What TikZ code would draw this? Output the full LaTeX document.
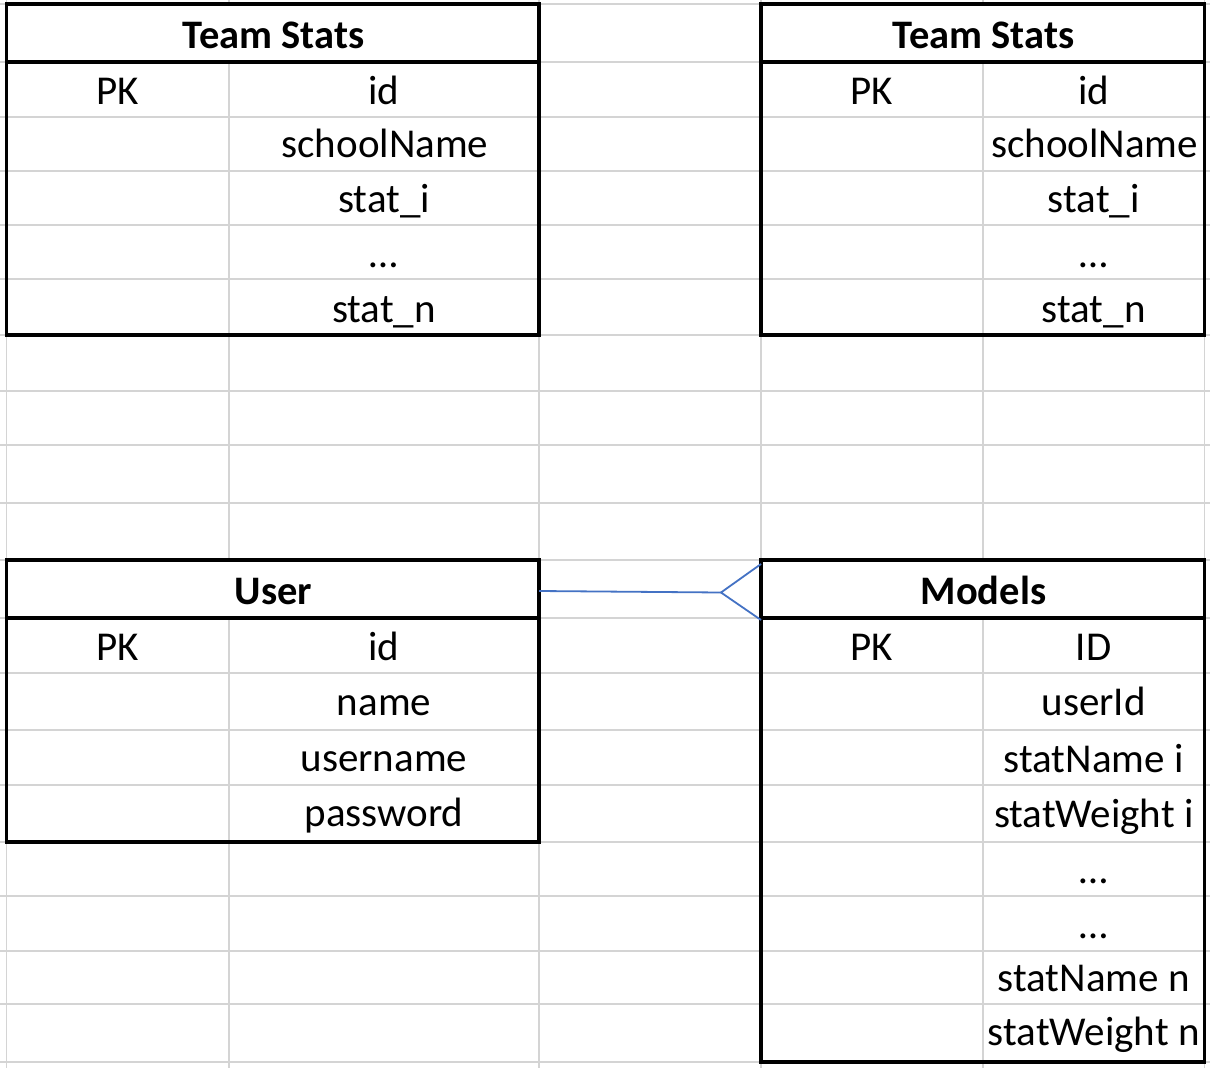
\documentclass[tikz,border=0pt]{standalone}
\usepackage{fontspec}
\setmainfont{Carlito}
\definecolor{gridgray}{RGB}{212,212,212}
\definecolor{linkblue}{RGB}{68,114,196}
\begin{document}
\begin{tikzpicture}[x=1pt,y=-1pt,
  gridline/.style={draw=gridgray, line width=1.6pt},
  tablebox/.style={draw=black, line width=3.5pt, inner sep=0pt, outer sep=0pt, anchor=north west},
  headbox/.style={tablebox, fill=white},
  cell/.style={anchor=base, inner sep=0pt, font=\fontsize{41}{48}\selectfont},
  headtext/.style={anchor=base, inner sep=0pt, font=\fontsize{40.5}{48}\selectfont\bfseries},
  link/.style={draw=linkblue, line width=1.8pt}]
\useasboundingbox (0,0) rectangle (1210,1068);
\fill[white] (0,0) rectangle (1210,1068);
% spreadsheet grid
\foreach \x in {6.5,229,539,761,983,1204.5} \draw[gridline] (\x,0) -- (\x,1068);
\foreach \y in {4,62,117,171,225,279,335,391,445,503,560,618,673,730,785,842,896,951,1004,1062} \draw[gridline] (0,\y) -- (1210,\y);

% Team Stats (left)
\node[tablebox, minimum width=532.5pt, minimum height=331pt] (tsl) at (6.5,4) {};
\node[headbox, minimum width=532.5pt, minimum height=58pt] (tslh) at (6.5,4) {};
\node[headtext] (tslt) at (273.5,48) {Team Stats};
\node[cell] (tslpk) at (118,104) {PK};
\node[cell] (tsla) at (384,104) {id};
\node[cell] (tslb) at (385,157) {schoolName};
\node[cell] (tslc) at (384,212) {stat\_i};
\node[cell] (tsld) at (384,267) {…};
\node[cell] (tsle) at (384,322) {stat\_n};

% Team Stats (right)
\node[tablebox, minimum width=443.5pt, minimum height=331pt] (tsr) at (761,4) {};
\node[headbox, minimum width=443.5pt, minimum height=58pt] (tsrh) at (761,4) {};
\node[headtext] (tsrt) at (983.5,48) {Team Stats};
\node[cell] (tsrpk) at (872,104) {PK};
\node[cell] (tsra) at (1093.75,104) {id};
\node[cell] (tsrb) at (1094.5,157) {schoolName};
\node[cell] (tsrc) at (1093.75,212) {stat\_i};
\node[cell] (tsrd) at (1093.75,267) {…};
\node[cell] (tsre) at (1093.75,322) {stat\_n};

% User
\node[tablebox, minimum width=532.5pt, minimum height=282pt] (user) at (6.5,560) {};
\node[headbox, minimum width=532.5pt, minimum height=58pt] (userh) at (6.5,560) {};
\node[headtext] (usert) at (273.5,604) {User};
\node[cell] (userpk) at (118,660) {PK};
\node[cell] (usera) at (384,660) {id};
\node[cell] (userb) at (384,715) {name};
\node[cell] (userc) at (384,771) {username};
\node[cell] (userd) at (384,826) {password};

% Models
\node[tablebox, minimum width=443.5pt, minimum height=502pt] (models) at (761,560) {};
\node[headbox, minimum width=443.5pt, minimum height=58pt] (modelsh) at (761,560) {};
\node[headtext] (modelst) at (983.5,604) {Models};
\node[cell] (modpk) at (872,660) {PK};
\node[cell] (moda) at (1093.75,660) {ID};
\node[cell] (modb) at (1093.75,715) {userId};
\node[cell] (modc) at (1093.75,772) {statName i};
\node[cell] (modd) at (1093.75,827) {statWeight i};
\node[cell] (mode) at (1093.75,883) {…};
\node[cell] (modf) at (1093.75,938) {…};
\node[cell] (modg) at (1093.75,991) {statName n};
\node[cell] (modh) at (1093.75,1045) {statWeight n};

% crow's foot connector
\coordinate (cf) at (721,592.5);
\draw[link] ([yshift=-2pt]userh.east) -- (cf);
\draw[link] ([yshift=-4pt]modelsh.north west) -- (cf) -- ([yshift=-2pt]modelsh.south west);
\end{tikzpicture}
\end{document}
